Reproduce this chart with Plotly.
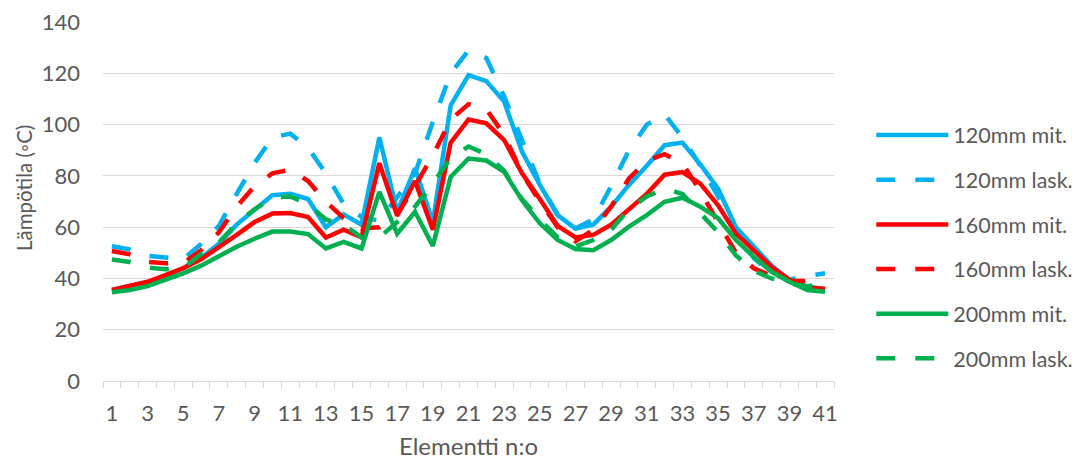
import plotly.graph_objects as go

elements = list(range(1, 42))

mit_120 = [35.5, 36.8, 38.5, 41, 44, 48, 53.5, 61, 67, 72.5, 73, 71, 60, 65, 61, 95, 66, 83, 62,
           107.5, 119.3, 117, 109, 89.5, 76.5, 64.7, 59.5, 61, 68, 76.5, 84, 92, 93, 84.5, 75, 60,
           52.5, 45, 39.5, 36.8, 35.8]
lask_120 = [52.6, 51.3, 48.8, 48, 47.5, 53.5, 60.5, 73, 85, 95, 96.5, 91, 81, 69, 64, 62.5, 72, 81,
            101, 120, 129, 126, 111, 94, 77, 65, 59.5, 63, 76, 90, 100, 104, 95, 84, 72, 58, 48, 42,
            39.5, 41, 42]
mit_160 = [35.5, 37, 38.7, 41.3, 44, 47.5, 52, 57, 62, 65.3, 65.5, 64, 56, 59, 56, 85, 64.5, 78, 59,
           93, 102, 100.5, 94, 81, 71, 60.5, 56, 57, 61, 67, 73, 80.5, 81.5, 77, 68.5, 57.5, 51, 44.5,
           39.5, 36.5, 36]
lask_160 = [50.7, 49.4, 46.5, 45.9, 46, 51, 58, 68, 76, 81, 82.5, 78, 70, 63.5, 59.5, 60, 65, 76, 88,
            102, 108, 106, 96, 81, 70, 60, 54.5, 59, 68, 79, 86, 88.5, 85, 74, 62, 50, 44, 41, 39, 39,
            40]
mit_200 = [34.6, 35.5, 37, 39.5, 42, 45, 48.8, 52.4, 55.5, 58.3, 58.3, 57.3, 51.7, 54.3, 51.7, 73.8,
           57.5, 66, 52.7, 79.6, 86.8, 86, 81.6, 70.5, 61.5, 55, 51.5, 51, 55, 60.2, 64.7, 69.9, 71.5,
           68, 63.5, 55, 48.4, 42.6, 38.7, 35.5, 34.8]
lask_200 = [47.4, 46.4, 44.3, 43.6, 44, 49.5, 54, 61.5, 67, 71.5, 72, 69, 63, 61, 56, 56, 62, 68, 77,
            87, 91.5, 88.5, 82, 71, 63, 56, 52.5, 55, 59, 67, 72, 75, 73, 65.5, 58, 49, 43, 40, 38,
            37, 38]

series_names = ["120mm mit.", "120mm lask.", "160mm mit.", "160mm lask.", "200mm mit.", "200mm lask."]
series_values = [mit_120, lask_120, mit_160, lask_160, mit_200, lask_200]
colors = ["#00B0F0", "#00B0F0", "#FF0000", "#FF0000", "#00B050", "#00B050"]
dashes = ["solid", "19px,20px", "solid", "19px,20px", "solid", "19px,20px"]

y_ticks = [0, 20, 40, 60, 80, 100, 120, 140]
x_tick_labels = [str(v) for v in range(1, 42, 2)]
y_title = "Lämpötila (◦C)"
x_title = "Elementti n:o"

FONT = "Lato, 'Open Sans', sans-serif"
TXT = "#595959"

# plot area in figure pixels (page adds an 8px body margin)
W, H = 1130, 456
L, T, PW, PH = 95, 14, 731, 359

fig = go.Figure()
for i, (name, vals) in enumerate(zip(series_names, series_values)):
    fig.add_trace(go.Scatter(
        x=elements, y=vals, name=name, mode="lines",
        line=dict(color=colors[i], width=4.5, dash=dashes[i]),
        legendgroup=f"g{i}",
    ))

fig.update_layout(
    width=W, height=H,
    margin=dict(l=L, r=W - L - PW, t=T, b=H - T - PH),
    paper_bgcolor="white", plot_bgcolor="white",
    font=dict(family=FONT, color=TXT, size=22),
    showlegend=True,
    legend=dict(
        x=1.051, y=0.742, xanchor="left", yanchor="top",
        font=dict(size=21.5, color=TXT, family=FONT),
        itemwidth=72, tracegroupgap=13.7,
        bgcolor="rgba(0,0,0,0)",
    ),
    xaxis=dict(
        range=[0.5, 41.5],
        automargin=False,
        tickmode="array",
        tickvals=list(range(1, 42, 2)),
        ticktext=x_tick_labels,
        ticks="",
        ticklabelstandoff=13,
        showgrid=False,
        zeroline=False,
        showline=True, linecolor="#D9D9D9", linewidth=1,
        tickfont=dict(size=22, color=TXT, family=FONT),
        minor=dict(tickmode="linear", tick0=0.5, dtick=1, ticks="outside",
                   ticklen=6, tickcolor="#D9D9D9", tickwidth=1, showgrid=False),
        title=dict(text=x_title, font=dict(size=24, color=TXT, family=FONT), standoff=12),
    ),
    yaxis=dict(
        range=[0, 140.05],
        automargin=False,
        tickmode="array",
        tickvals=y_ticks,
        ticktext=[str(v) for v in y_ticks],
        ticklabeloverflow="allow",
        showgrid=True, gridcolor="#D9D9D9", gridwidth=1,
        zeroline=False, showline=False, ticks="",
        ticklabelstandoff=22,
        tickfont=dict(size=22, color=TXT, family=FONT),
    ),
    annotations=[dict(
        text=y_title, textangle=-90, showarrow=False,
        xref="paper", yref="paper",
        x=(16 - L) / PW, y=(T + PH - 180) / PH,
        xanchor="center", yanchor="middle",
        font=dict(size=20.5, color=TXT, family=FONT),
    )],
)

fig.write_html("out.html")
